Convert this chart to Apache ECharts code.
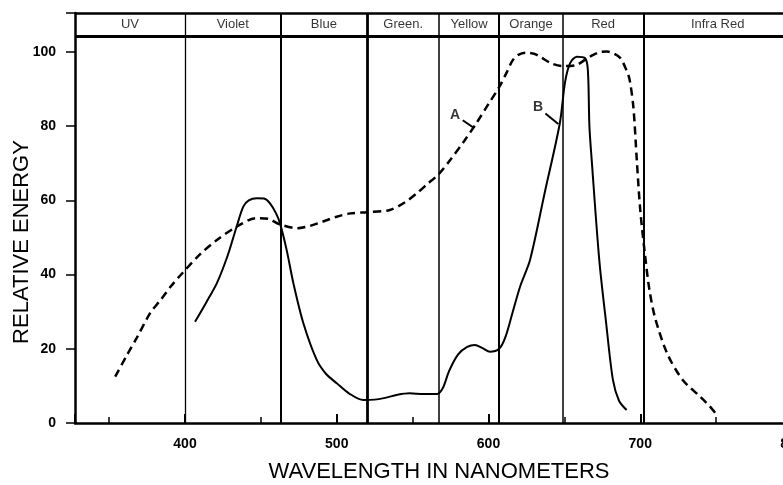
<!DOCTYPE html>
<html><head><meta charset="utf-8">
<script src="https://cdn.jsdelivr.net/npm/echarts@6/dist/echarts.min.js"></script>
<style>html,body{margin:0;padding:0;background:#fff}#c{width:783px;height:485px}</style>
</head><body><div id="c"></div>
<script>
// ---- data ----
const curveA_nm = [354,362,368,377,384,391,398.5,410,421,434,447,455,462,474,483,491,500,509,520,535,545,553,560,567,575,584,592,600,607,612,616,620,625,630,634,641,649,658,664,669,674,678,683,687,691,693,695.5,697.7,700,703,706,710,718,728,739.5,746,749.4];
const curveA_val = [12.5,18.5,22.8,29.6,33.2,37,40.5,45.5,49.3,52.9,55.2,55,53.6,52.5,53.2,54.3,55.6,56.5,56.8,57.4,59.5,62,64.5,67,71,76,80.8,86,90.5,94.5,97.8,99.3,99.8,99.5,98.7,97,96.2,96.5,98,99.2,100,100.1,99.5,98.3,95,92.5,85,71,57.4,45.8,36,28,18.5,11.6,7.1,4.4,2.7];
const curveB_nm = [406.6,414,421,428,434,438.4,442,447.3,452,456,460,462.6,467,471.4,478,486.8,493,500,508,517.5,525,531,540,548,557,566,570,574,580,586,591,596,601,607,611,616,621,627.4,637,647,650.5,653.8,658.2,663.7,665.5,666.5,668,673,677.5,682,686,691];
const curveB_val = [27.3,32.5,37.7,45,52.9,58.3,60,60.6,60.5,59.2,56.5,53.8,46.6,37.7,26.9,17,13.2,10.7,8,6.2,6.3,6.7,7.6,8,7.8,7.8,9.5,14,18.5,20.5,21,20.2,19.2,20,23,30,37,44,62,80.8,92,97,98.7,98.3,95,80,70.9,43.9,27,11.6,6,3.5];
const bandNames = ['UV','Violet','Blue','Green.','Yellow','Orange','Red','Infra Red'];
const bandEdges = [400,463,520,567.5,607,649,702];
const xTickLabels = [400,500,600,700,800];
const yTickLabels = [0,20,40,60,80,100];
const curveNames = ['A','B'];

// ---- layout / style ----
const X_MIN = 327.5, X_MAX = 800, Y_MAX = 110.5, HEADER_BOTTOM = 104.3;
const FONT = "'Liberation Sans', Arial, Helvetica, sans-serif";
const bandLineWidths = [1.3,2,2.8,1.5,2,1.5,2];
const annotations = [
  {name: curveNames[0], at: [578, 83], leader: [[583, 81.6], [590.5, 79.5]]},
  {name: curveNames[1], at: [632.7, 85], leader: [[637.5, 83.4], [646, 80.6]]}
];

const zip = (a, b) => a.map((v, i) => [v, b[i]]);
const allEdges = [X_MIN, ...bandEdges, X_MAX];
const bandCenters = bandNames.map((n, i) => ({name: n, value: [(allEdges[i] + allEdges[i + 1]) / 2, (HEADER_BOTTOM + Y_MAX) / 2]}));

const chart = echarts.init(document.getElementById('c'));
chart.setOption({
  animation: false,
  backgroundColor: '#fff',
  grid: {left: 75, right: -9, top: 13, bottom: 62, containLabel: false, outerBoundsMode: 'none'},
  xAxis: {
    type: 'value', min: X_MIN, max: X_MAX, splitLine: {show: false},
    axisLine: {lineStyle: {color: '#000', width: 2.5}},
    axisTick: {inside: true, length: 9, lineStyle: {color: '#000', width: 2}},
    minorTick: {show: true, splitNumber: 2, length: 6, lineStyle: {color: '#000', width: 1.5}},
    axisLabel: {margin: 14, color: '#000', fontSize: 14, fontWeight: 'bold', fontFamily: FONT,
      showMinLabel: true, showMaxLabel: true, hideOverlap: false,
      formatter: v => xTickLabels.includes(v) ? String(v) : ''}
  },
  yAxis: {
    type: 'value', min: 0, max: Y_MAX, interval: 20, splitLine: {show: false},
    axisLine: {show: true, lineStyle: {color: '#000', width: 2.5}},
    axisTick: {show: true, length: 9, lineStyle: {color: '#000', width: 1.5}},
    axisLabel: {margin: 19, color: '#000', fontSize: 14, fontWeight: 'bold', fontFamily: FONT,
      formatter: v => yTickLabels.includes(v) ? String(v) : ''}
  },
  graphic: [
    {type: 'text', x: 439, y: 472, style: {text: 'WAVELENGTH IN NANOMETERS', font: "22px " + FONT, fill: '#000', textAlign: 'center', textVerticalAlign: 'middle'}},
    {type: 'text', x: 22, y: 242, rotation: Math.PI / 2, style: {text: 'RELATIVE ENERGY', font: "22px " + FONT, fill: '#000', textAlign: 'center', textVerticalAlign: 'middle'}}
  ],
  series: [
    {
      name: 'dividers', type: 'line', data: [], silent: true,
      markLine: {
        symbol: 'none', silent: true, label: {show: false}, animation: false,
        data: [
          ...bandEdges.map((x, i) => ({xAxis: x, lineStyle: {color: '#000', width: bandLineWidths[i], type: 'solid'}})),
          {yAxis: HEADER_BOTTOM, lineStyle: {color: '#000', width: 3, type: 'solid'}},
          {yAxis: Y_MAX, lineStyle: {color: '#000', width: 2.5, type: 'solid'}}
        ]
      }
    },
    {
      name: 'bands', type: 'scatter', data: bandCenters, symbolSize: 0, silent: true,
      label: {show: true, position: 'inside', formatter: p => p.name, color: '#000', fontSize: 13, fontFamily: FONT}
    },
    {
      name: curveNames[0], type: 'line', data: zip(curveA_nm, curveA_val), showSymbol: false, smooth: 0.3,
      lineStyle: {color: '#000', width: 2.5, type: [8, 5]}
    },
    {
      name: curveNames[1], type: 'line', data: zip(curveB_nm, curveB_val), showSymbol: false, smooth: 0.3,
      lineStyle: {color: '#000', width: 2}
    },
    {
      name: 'annotations', type: 'scatter', symbolSize: 0, silent: true,
      data: annotations.map(a => ({name: a.name, value: a.at})),
      label: {show: true, position: 'inside', formatter: p => p.name, color: '#000', fontSize: 14, fontWeight: 'bold', fontFamily: FONT},
      markLine: {
        symbol: 'none', silent: true, label: {show: false},
        lineStyle: {color: '#000', width: 2, type: 'solid'},
        data: annotations.map(a => [{coord: a.leader[0]}, {coord: a.leader[1]}])
      }
    }
  ]
});
</script></body></html>
